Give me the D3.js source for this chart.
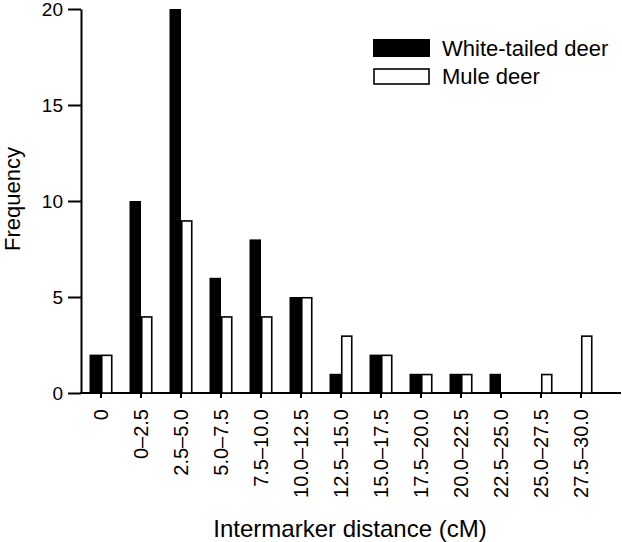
<!DOCTYPE html>
<html>
<head>
<meta charset="utf-8">
<script src="https://cdn.jsdelivr.net/npm/d3@7"></script>
<style>
  body { margin: 0; background: #fff; }
  text { font-family: "Liberation Sans", Arial, sans-serif; fill: #000; }
</style>
</head>
<body>
<div id="chart"></div>
<script>
const categories = ["0", "0–2.5", "2.5–5.0", "5.0–7.5", "7.5–10.0", "10.0–12.5", "12.5–15.0",
  "15.0–17.5", "17.5–20.0", "20.0–22.5", "22.5–25.0", "25.0–27.5", "27.5–30.0"];
const whiteTailed = [2, 10, 20, 6, 8, 5, 1, 2, 1, 1, 1, 0, 0];
const muleDeer = [2, 4, 9, 4, 4, 5, 3, 2, 1, 1, 0, 1, 3];
const yTicks = [0, 5, 10, 15, 20];
const seriesNames = ["White-tailed deer", "Mule deer"];

var width = 622, height = 542;
var barW = 11.5;

var svg = d3.select("#chart")
  .append("svg")
  .attr("width", width)
  .attr("height", height);

var x = d3.scaleBand().domain(categories).range([81, 601]).padding(0);
var y = d3.scaleLinear().domain([0, 20]).range([393, 9]);

// y axis
var yAxis = svg.append("g")
  .attr("transform", "translate(81,0)")
  .call(d3.axisLeft(y).tickValues(yTicks).tickSize(13).tickPadding(5).tickSizeOuter(0));
yAxis.select(".domain").attr("stroke-width", 2);
yAxis.selectAll(".tick line").attr("stroke-width", 2);
yAxis.selectAll(".tick text")
  .style("font-size", "19px")
  .style("font-family", "'Liberation Sans', Arial, sans-serif")
  .attr("fill", "#000");

// x axis
var xAxis = svg.append("g")
  .attr("transform", "translate(0,393)")
  .call(d3.axisBottom(x).tickSize(5).tickSizeOuter(0));
xAxis.select(".domain").remove();
xAxis.append("line")
  .attr("x1", 80).attr("x2", 621)
  .attr("stroke", "#000").attr("stroke-width", 2);
xAxis.selectAll(".tick line").attr("stroke-width", 2);
xAxis.selectAll(".tick text")
  .style("font-size", "20px")
  .style("font-family", "'Liberation Sans', Arial, sans-serif")
  .attr("fill", "#000")
  .style("text-anchor", "end")
  .attr("transform", "rotate(-90)")
  .attr("x", -16)
  .attr("y", 0)
  .attr("dy", "0.36em");

// bars
var center = (d) => x(d) + x.bandwidth() / 2;

svg.append("g")
  .selectAll("rect")
  .data(categories.map((c, i) => ({ c: c, v: whiteTailed[i] })).filter((d) => d.v > 0))
  .enter()
  .append("rect")
  .attr("x", (d) => center(d.c) - barW)
  .attr("y", (d) => y(d.v))
  .attr("width", barW)
  .attr("height", (d) => y(0) - y(d.v))
  .attr("fill", "#000");

svg.append("g")
  .selectAll("rect")
  .data(categories.map((c, i) => ({ c: c, v: muleDeer[i] })).filter((d) => d.v > 0))
  .enter()
  .append("rect")
  .attr("x", (d) => center(d.c) + 0.75)
  .attr("y", (d) => y(d.v) + 0.75)
  .attr("width", barW - 1.5)
  .attr("height", (d) => y(0) - y(d.v) - 0.75)
  .attr("fill", "#fff")
  .attr("stroke", "#000")
  .attr("stroke-width", 1.6);

// legend
var legend = svg.append("g");
legend.append("rect")
  .attr("x", 373).attr("y", 39).attr("width", 57).attr("height", 18)
  .attr("fill", "#000");
legend.append("rect")
  .attr("x", 374).attr("y", 69).attr("width", 55).attr("height", 15)
  .attr("fill", "#fff").attr("stroke", "#000").attr("stroke-width", 1.6);
legend.append("text")
  .attr("x", 442).attr("y", 56)
  .style("font-size", "22px")
  .text(seriesNames[0]);
legend.append("text")
  .attr("x", 442).attr("y", 84)
  .style("font-size", "22px")
  .text(seriesNames[1]);

// axis titles
svg.append("text")
  .attr("transform", "rotate(-90)")
  .attr("x", -199)
  .attr("y", 20)
  .attr("text-anchor", "middle")
  .style("font-size", "22px")
  .text("Frequency");

svg.append("text")
  .attr("x", 350)
  .attr("y", 537)
  .attr("text-anchor", "middle")
  .style("font-size", "24px")
  .text("Intermarker distance (cM)");
</script>
</body>
</html>
